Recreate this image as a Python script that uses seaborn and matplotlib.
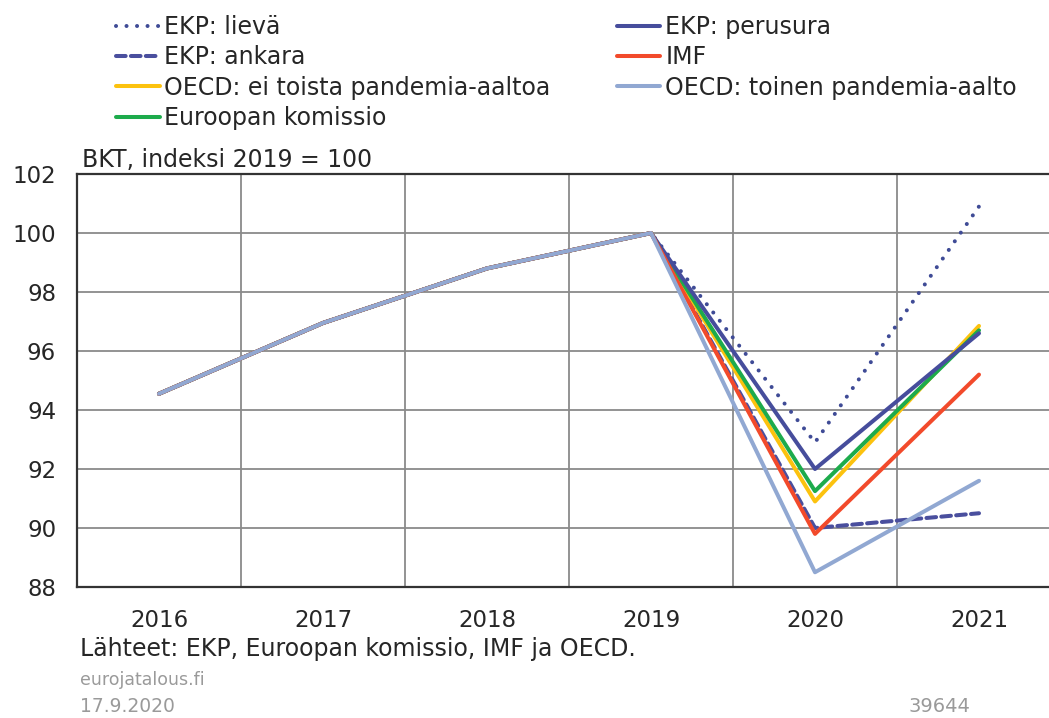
import matplotlib
matplotlib.use("Agg")
import matplotlib.pyplot as plt
import seaborn as sns
import pandas as pd

years = [2016, 2017, 2018, 2019, 2020, 2021]
history = [94.55, 96.95, 98.8, 100.0]

# 2020 and 2021 forecasts per scenario
ekp_lieva = history + [92.9, 100.9]
ekp_ankara = history + [90.0, 90.5]
oecd_ei_toista = history + [90.9, 96.85]
komissio = history + [91.25, 96.7]
ekp_perusura = history + [92.0, 96.6]
imf = history + [89.8, 95.2]
oecd_toinen = history + [88.5, 91.6]

series = [
    ("EKP: lievä", ekp_lieva, "#3f4b96", (0, (0.01, 2.6))),
    ("EKP: ankara", ekp_ankara, "#4a4f9e", (0, (2.4, 1.3))),
    ("OECD: ei toista pandemia-aaltoa", oecd_ei_toista, "#fcc20e", "-"),
    ("Euroopan komissio", komissio, "#1dab4c", "-"),
    ("EKP: perusura", ekp_perusura, "#464d9c", "-"),
    ("IMF", imf, "#f24a2b", "-"),
    ("OECD: toinen pandemia-aalto", oecd_toinen, "#91a8d2", "-"),
]

sns.set_style("white")
plt.rcParams['font.family'] = ['DejaVu Sans']

fig = plt.figure(figsize=(10.49, 7.18), dpi=100)
ax = fig.add_axes([77 / 1049, 1 - 587 / 718, (1049 - 77) / 1049, (587 - 174) / 718])

for name, vals, color, ls in series:
    df = pd.DataFrame({"vuosi": years, "arvo": vals})
    sns.lineplot(data=df, x="vuosi", y="arvo", ax=ax, color=color, linestyle=ls,
                 linewidth=2.9, label=name, dash_capstyle="round")

ax.set_xlim(2015.5, 2015.5 + (1049 - 77) / 164)
ax.set_ylim(88, 102)
ax.set_yticks(range(88, 103, 2))
ax.set_xticks(years)
ax.set_xticks([y + 0.5 for y in years[:-1]], minor=True)
ax.set_xlabel("")
ax.set_ylabel("")
ax.tick_params(axis="both", which="both", length=0, labelsize=16.5)
ax.tick_params(axis="y", pad=15)
ax.tick_params(axis="x", pad=16)

ax.grid(axis="y", which="major", color="#8a8a8a", linewidth=1.3)
ax.grid(axis="x", which="minor", color="#8a8a8a", linewidth=1.3)
ax.set_axisbelow(True)
for side in ["top", "left", "bottom"]:
    ax.spines[side].set_color("#333333")
    ax.spines[side].set_linewidth(1.6)
ax.spines["right"].set_visible(False)

handles, labels = ax.get_legend_handles_labels()
ax.get_legend().remove()
fig.legend(handles, labels, ncol=2, loc="upper left", bbox_to_anchor=(116 / 1049, 1 - 15 / 718),
           frameon=False, fontsize=17, handlelength=1.85, handletextpad=0.2,
           labelspacing=0.27, columnspacing=2.8, borderaxespad=0, borderpad=0)

fig.text(82 / 1049, 1 - 160 / 718, "BKT, indeksi 2019 = 100", fontsize=17, va="center")
fig.text(80 / 1049, 1 - 649 / 718, "Lähteet: EKP, Euroopan komissio, IMF ja OECD.",
         fontsize=17, va="center")
fig.text(80 / 1049, 1 - 680 / 718, "eurojatalous.fi", fontsize=12.5, color="#9a9a9a", va="center")
fig.text(80 / 1049, 1 - 706 / 718, "17.9.2020", fontsize=13.5, color="#9a9a9a", va="center")
fig.text(970 / 1049, 1 - 706 / 718, "39644", fontsize=14, color="#9a9a9a", va="center", ha="right")

fig.savefig("out.png", dpi=100)
